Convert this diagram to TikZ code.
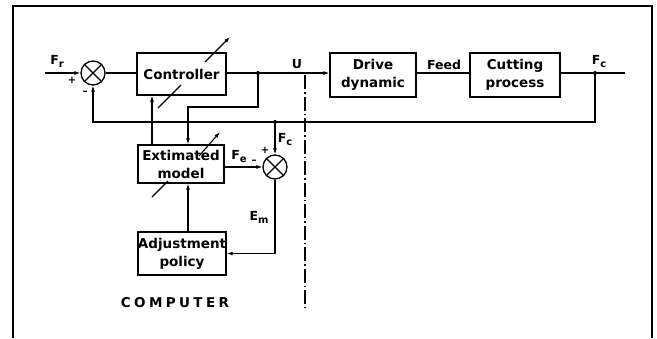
\documentclass[tikz,border=0pt]{standalone}
\usepackage{fontspec}
\setmainfont{DejaVu Sans}
\newfontfamily\blkfont{DejaVu Sans Bold}
\newfontfamily\compfont{DejaVu Sans Bold}[LetterSpace=25]
\usetikzlibrary{arrows.meta}
\newcommand{\lsub}[1]{\raisebox{-3pt}{\fontsize{10}{10}\selectfont #1}}
\begin{document}
\begin{tikzpicture}[x=1pt,y=-1pt,
  blk/.style={draw, line width=1.3pt, rectangle, align=center, inner sep=0pt,
    font=\blkfont\fontsize{13.5}{18}\selectfont},
  sumc/.style={draw, circle, line width=1.3pt, minimum size=24pt, inner sep=0pt},
  lnk/.style={line width=1.1pt},
  arr/.style={lnk, -{Latex[length=6pt,width=4pt]}},
  lab/.style={font=\blkfont\fontsize{12.5}{14}\selectfont, inner sep=0pt},
  sgn/.style={font=\blkfont\fontsize{10}{10}\selectfont, inner sep=0pt},
  dot/.style={circle, fill, inner sep=0pt, minimum size=4pt},
  frm/.style={line width=2.6pt},
  var/.style={line width=1.1pt}]
\useasboundingbox (0,0) rectangle (657,338);

% frame
\draw[frm] (13,338) -- (13,6) -- (652,6) -- (652,338);

% blocks
\node[sumc] (s1) at (93,73) {};
\draw[lnk] (s1.north west) -- (s1.south east) (s1.north east) -- (s1.south west);
\node[blk, minimum width=89pt, minimum height=42pt] (ctrl) at (181.5,74) {Controller};
\node[blk, minimum width=86pt, minimum height=44pt] (drive) at (373,75) {Drive\\dynamic};
\node[blk, minimum width=90pt, minimum height=44pt] (cut) at (515,75) {Cutting\\process};
\node[blk, minimum width=86pt, minimum height=38pt] (model) at (181,164) {Extimated\\model};
\node[sumc] (s2) at (275,167) {};
\draw[lnk] (s2.north west) -- (s2.south east) (s2.north east) -- (s2.south west);
\node[blk, minimum width=88pt, minimum height=43pt] (adj) at (182,253.5) {Adjustment\\policy};

% coordinates
\coordinate (in) at (45,73);
\coordinate (j1) at (258,73);
\coordinate (j2) at (595,73);
\coordinate (out) at (625,73);
\coordinate (fb) at (595,122);
\coordinate (j3) at (275,122);
\coordinate (c1) at (188,107);
\coordinate (c2) at (152,130);

% connectors
\draw[arr] (in) -- (s1.west);
\draw[lnk] (s1.east) -- (s1.east -| ctrl.west);
\draw[lnk] (ctrl.east |- j1) -- (j1);
\draw[arr] (j1) -- (j1 -| drive.west);
\draw[lnk] (drive.east |- j1) -- (cut.west |- j1);
\draw[lnk] (cut.east |- j1) -- (out);
\draw[arr] (j2) -- (fb) -- (s1.south |- fb) -- (s1.south);
\draw[arr] (j3) -- (s2.north);
\draw[arr] (j1) -- (j1 |- c1) -- (c1) -- (c1 |- model.north);
\draw[arr] (model.north -| c2) -- (ctrl.south -| c2);
\draw[arr] (model.east |- s2.west) -- (s2.west);
\draw[arr] (s2.south) -- (s2.south |- adj.east) -- (adj.east);
\draw[arr] (adj.north -| c1) -- (model.south -| c1);

\node[dot] at (j1) {};
\node[dot] at (j2) {};
\node[dot] at (j3) {};

% variable-parameter arrows
\draw[var] (158,108) -- (181,85);
\draw[var, -{Latex[length=6pt,width=4pt]}] (205,62) -- (230,37);
\draw[var] (152,197) -- (168,181);
\draw[var, -{Latex[length=6pt,width=4pt]}] (199,156) -- (220,132);

% dash-dot separator
\draw[line width=1.1pt, dash pattern=on 14pt off 3pt on 1.5pt off 3pt] (305,75) -- (305,308);

% labels
\node[lab] at (57,61) {F\lsub{r}};
\node[sgn] at (72,80) {+};
\node[sgn] at (85,93) {–};
\node[lab] at (297,64) {U};
\node[lab] at (444,65) {Feed};
\node[lab] at (599,62) {F\lsub{c}};
\node[lab] at (285,140) {F\lsub{c}};
\node[sgn] at (265,150) {+};
\node[lab] at (239,157) {F\lsub{e}};
\node[sgn] at (254,162) {–};
\node[lab] at (259,217) {E\lsub{m}};
\node[inner sep=0pt, font=\compfont\fontsize{13.5}{16}\selectfont] at (175,303) {COMPUTER};
\end{tikzpicture}
\end{document}
